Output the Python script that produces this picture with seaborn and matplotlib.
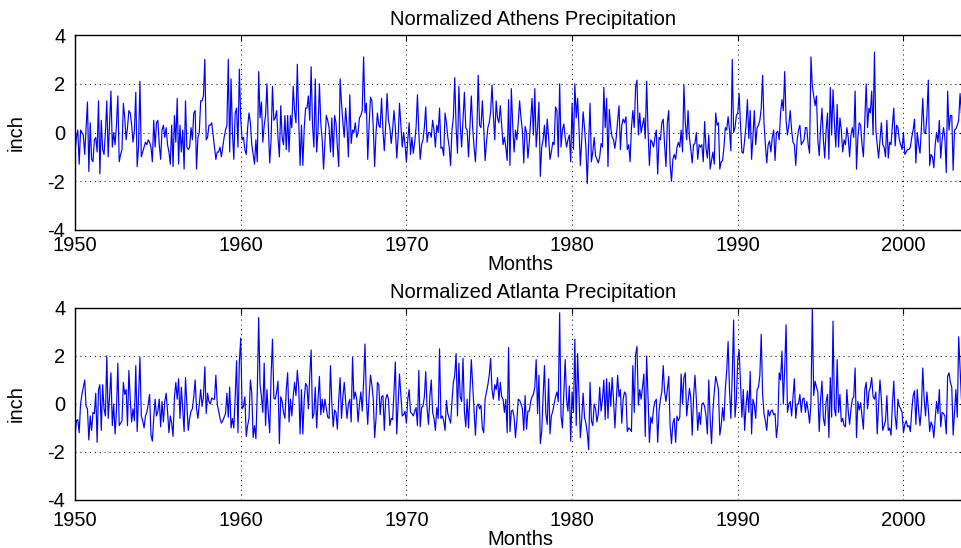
import numpy as np
import pandas as pd
import matplotlib
matplotlib.use("Agg")
import matplotlib.pyplot as plt
import seaborn as sns

start_year = 1950
x_ticks = [1950, 1960, 1970, 1980, 1990, 2000]
y_ticks = [-4, -2, 0, 2, 4]
titles = ["Normalized Athens Precipitation", "Normalized Atlanta Precipitation"]

athens = [
    -0.8, -0.2, 0.1, -1.3, 0.1, 0.0, -0.1, -0.9, 0.2, 1.25, -1.6, 0.4,
    -1.1, -1.2, -0.3, -0.2, -0.8, 1.3, -1.7, 0.5, -0.7, -0.9, 0.0, 1.3,
    -1.0, 0.3, 1.7, -0.6, 0.0, -0.5, 0.3, 1.5, -1.2, -0.9, -0.7, 1.2,
    0.6, -0.3, 0.2, 0.9, 0.8, 0.3, -0.4, 0.1, 1.65, -1.4, -0.6, 2.1,
    -1.0, -0.8, -0.6, -0.4, -0.5, -0.3, -0.4, -0.6, -1.2, 0.5, -0.6, 0.4,
    0.5, -0.5, -1.1, 0.1, 0.3, -0.2, 0.2, -0.5, -0.8, -1.3, 0.3, -1.4,
    0.7, -0.4, 1.4, -1.3, 0.3, -0.8, 0.1, -1.5, 1.3, -0.6, -0.7, -0.6,
    0.2, -0.3, 0.8, 0.9, -1.5, -0.2, 0.0, 1.3, 1.3, 1.5, 3.0, -0.3,
    -0.2, 0.3, 0.3, 0.4, -0.1, -0.6, -1.1, -0.8, -0.8, -0.6, -1.0, -0.6,
    -0.2, 0.1, 0.3, 3.0, -0.8, 2.2, 0.0, -1.1, 0.8, 1.0, -0.6, 2.6,
    0.6, -0.3, -0.2, -0.7, -0.9, 0.2, 0.8, 0.4, -0.5, -0.9, -1.3, -0.3,
    -1.2, 2.5, 0.6, 1.25, -0.4, 0.3, 0.7, 2.0, 0.2, -1.25, -0.3, 1.9,
    0.5, 0.6, 0.9, -0.2, -1.0, 1.1, -0.2, -0.5, 0.7, -0.7, 0.7, -0.8,
    0.7, 0.2, 1.9, 0.9, 0.4, 2.8, 0.5, -1.35, 0.3, -1.35, 0.2, 1.0,
    1.0, 1.5, 0.5, 2.7, 0.3, -0.6, 2.2, -0.8, 0.1, 2.0, 0.4, -0.3,
    -1.5, -0.4, 0.7, 0.5, 0.2, -0.8, 0.6, -1.0, 0.7, 0.4, -0.6, -1.4,
    2.2, 1.2, 0.4, -0.2, 1.0, 0.2, -1.0, 1.55, -0.45, 0.1, 0.0, 0.4,
    -0.2, 0.0, 0.6, 0.7, 0.9, 3.1, 0.8, 1.2, -1.1, 0.3, 1.45, 1.3,
    0.2, -1.4, 0.0, 0.8, 0.3, 0.2, 1.4, 0.1, -0.75, 0.3, 1.6, 0.5,
    0.2, -0.45, 0.1, 0.9, 0.2, -1.05, -0.2, 1.2, 0.3, -0.6, 0.0, -0.5,
    -1.2, -0.3, 0.4, -0.9, -0.2, -0.85, -0.4, 0.2, 1.55, 0.0, -1.1, -0.5,
    -0.3, 0.2, 1.05, -0.4, 0.0, 0.0, -0.2, 0.5, 0.1, -0.6, 0.3, 0.0,
    1.0, -0.65, -0.6, -0.95, 0.8, 0.4, -0.2, -0.6, -1.35, 0.1, 0.6, 2.25,
    0.2, -0.85, 1.9, 0.3, -0.6, 0.5, 1.65, 0.2, 0.1, -1.0, 0.3, 1.5,
    0.2, -0.6, -1.2, 0.0, 2.35, 0.3, 0.2, 1.3, 0.2, -1.15, -0.4, 0.2,
    0.4, 0.85, 1.95, 0.7, -0.3, 1.3, 0.6, 0.4, 1.1, 0.3, -0.5, -0.2,
    -0.6, -1.15, 1.35, -1.35, 1.8, 0.3, -0.8, 0.1, -0.3, 0.4, 1.3, 0.6,
    0.1, -1.25, 0.25, 0.0, -1.05, -0.4, 0.5, 1.4, -0.1, 1.8, -0.6, 0.2,
    1.25, -1.8, -0.6, -0.3, 0.3, -0.6, 0.55, -0.2, -1.1, -0.8, -0.4, -0.5,
    1.05, 0.9, -1.0, 2.0, -0.6, 0.1, 0.35, -0.2, -0.6, -0.3, -0.1, -1.2,
    1.2, -0.7, 2.0, 0.6, 1.4, 0.2, -1.35, -0.3, 0.85, 0.2, -0.6, -2.1,
    -0.4, 1.2, -1.2, -0.8, -0.2, -0.95, -1.1, -1.25, -1.0, -0.45, -0.6, 1.85,
    0.2, 1.4, -1.4, 0.95, 0.2, -0.2, -0.3, -0.65, -0.2, 0.5, 1.1, -0.7,
    0.3, 0.55, 0.4, 0.65, -0.7, -0.5, -1.2, 0.2, 0.9, 0.2, 1.85, 2.15,
    -0.1, 0.8, 0.0, 0.3, 0.6, -0.25, 2.1, 0.1, -1.35, -0.3, -0.4, -0.6,
    -0.2, 0.1, -1.7, -0.2, -0.3, 0.4, 0.55, -0.5, -1.4, 0.4, 0.9, -1.3,
    -2.0, -1.1, -0.9, -1.1, -0.6, -0.4, -0.6, 0.1, -0.8, 1.95, 0.4, -0.3,
    0.9, -0.2, -0.7, -1.25, -0.5, -0.45, 0.0, -1.1, -0.5, -0.6, -0.5, -1.2,
    0.45, -0.65, -1.05, -0.1, -1.5, -1.15, -0.8, -1.3, 0.8, 0.3, 0.4, -1.5,
    -1.2, -1.15, -0.6, 0.2, 0.1, 0.65, 0.1, -0.75, 3.0, 0.0, 0.2, 0.7,
    0.8, 1.6, 0.3, -0.8, -0.85, -0.3, 0.3, 1.35, -0.25, 0.9, -1.1, -0.15,
    0.9, -0.5, 0.2, 0.3, 0.5, 1.0, 2.35, 0.4, -0.5, -1.25, -0.5, -0.35,
    -0.8, -0.2, 0.1, -1.15, 0.0, 0.05, -0.3, 0.8, 1.35, 0.9, 2.5, 0.5,
    -0.1, 0.3, 0.9, 0.1, -0.4, -0.5, -1.35, -0.3, 0.1, 0.3, -0.5, -0.4,
    -0.3, 0.2, 0.2, -0.5, -0.85, 3.1, 1.9, 1.5, 1.1, 1.5, -0.3, -0.95,
    0.2, 1.0, -0.3, -1.05, 0.1, 0.8, -1.1, 1.85, -0.1, 1.75, 0.4, -0.6,
    1.15, -0.6, 0.6, 0.1, -0.8, -0.3, -0.5, 0.2, -0.2, -1.0, -0.1, 0.2,
    -0.2, 1.7, -1.5, -0.2, 0.4, 0.3, -0.5, -1.0, 0.5, 2.0, 0.2, 1.0,
    0.8, 1.7, -0.1, 3.3, 0.1, -0.5, -1.05, -0.3, 0.4, -0.5, -0.6, -1.0,
    0.5, -1.05, -0.4, -0.5, 0.3, 1.0, -0.55, 0.3, 0.2, -0.3, -0.5, -0.7,
    0.0, -0.9, -0.8, -0.7, -0.7, -0.6, -0.2, 0.1, 0.55, -1.25, 0.0, -0.5,
    -0.85, 0.2, 1.4, 0.0, -0.05, 0.7, 2.15, -1.35, -0.9, -1.0, -1.45, -0.5,
    0.0, -0.4, 0.5, -1.05, -0.3, 0.2, -0.2, -1.65, 1.7, 0.1, 0.7, 0.7,
    -1.55, 0.1, 0.15, 0.3, 0.5, 1.6, 0.8, 1.3, -0.9, -0.5,
]

atlanta = [
    -1.3, -0.7, -0.65, -1.2, 0.0, 0.4, 0.7, 1.0, -0.1, -0.2, -1.5, -0.5,
    -1.1, -0.35, -0.4, 0.45, -1.6, 0.6, 0.8, -1.1, 0.8, -0.2, -0.5, 2.0,
    -0.6, 0.3, 1.3, -0.9, 0.0, -1.25, -0.3, 1.7, -0.9, -0.8, -0.7, 0.9,
    0.4, 0.6, -0.9, 1.4, 0.2, -0.75, -0.2, -0.7, 1.6, -1.15, 0.3, 1.95,
    -0.5, -0.7, -1.0, -0.5, -0.35, 0.0, 0.4, -1.3, -1.55, -0.6, 0.2, -0.5,
    -0.3, 0.2, -0.95, 0.1, -0.75, 0.1, 0.45, -0.3, -1.2, -0.5, -0.8, -1.35,
    0.3, 0.9, 0.2, 1.05, -0.6, 0.7, -0.2, -1.15, 1.1, 0.0, -1.1, -0.6,
    -0.3, -0.2, 0.3, 1.0, -0.2, -0.6, 0.0, 0.6, -0.1, 0.3, 1.55, -0.4,
    0.45, 0.1, 0.0, 0.25, 0.2, 0.2, 1.2, 0.0, -0.3, -0.6, -0.8, -0.7,
    -0.55, -0.4, 0.45, -0.55, 0.7, -1.0, -0.6, -1.0, 0.3, 1.8, -1.2, 1.75,
    2.75, -0.2, -0.1, 0.3, -1.35, -0.9, -0.6, 1.0, 0.45, -1.4, -0.9, -1.45,
    0.5, 3.6, 0.8, 0.3, -0.35, 1.7, -0.9, 0.6, -0.4, -1.2, 1.2, 2.7,
    0.25, 0.2, 0.5, 0.95, -1.65, 0.3, 0.1, -0.35, -0.6, 0.6, 1.3, -0.75,
    0.2, -0.5, 0.3, 0.9, 0.35, 1.4, 0.7, -1.25, 0.6, -1.25, 0.2, 0.85,
    0.75, -0.2, 1.2, 2.25, -0.6, -0.4, 0.7, -1.0, 0.2, 1.15, -0.45, 0.2,
    -0.35, 0.2, -0.2, -0.55, -0.6, 1.6, 0.0, -0.95, -0.25, -0.35, -1.05, 0.2,
    1.1, -0.6, 0.3, 0.9, 0.1, -0.6, 0.0, 0.2, -0.75, 1.95, 0.2, 0.5,
    0.2, -0.75, 0.0, 0.5, -0.3, 0.9, 2.5, 0.2, -0.85, 0.35, 1.2, 0.8,
    0.2, -1.4, -0.6, 0.9, 0.8, -0.45, 0.3, 0.35, -1.1, 0.2, 0.4, 0.2,
    -0.9, -0.6, -0.65, 0.5, 1.75, -1.25, 0.0, 1.25, 0.4, -0.5, -0.45, -0.3,
    -0.8, 0.2, 0.6, -0.35, -0.4, -0.5, -0.3, -0.15, -0.9, 1.4, -0.95, -0.15,
    -0.1, 0.3, 1.35, -0.2, -0.85, 0.3, 1.0, -0.35, -0.6, -1.1, -0.15, -0.6,
    2.3, -0.6, -0.5, -0.7, -1.1, 0.15, -0.4, -0.6, -0.8, 0.1, 0.9, 1.2,
    2.1, -0.5, 1.7, 0.3, 0.1, 1.9, -0.3, -0.95, 0.2, -1.0, 0.5, 1.85,
    0.8, -0.2, -1.3, -0.1, 0.0, -0.2, -0.05, -1.0, -1.2, 0.2, 0.5, 0.8,
    1.2, 1.9, 0.6, 0.2, 0.8, 0.6, 1.1, 0.15, 0.9, 0.3, 0.2, -0.35,
    0.2, -1.2, 2.35, -1.15, -0.3, -0.25, -0.55, -1.4, -0.7, 0.2, 0.15, 0.0,
    -0.2, -1.1, 0.35, -1.05, -0.3, -0.3, 0.1, 0.3, 0.4, 0.7, 1.85, -0.4,
    1.2, -1.65, -1.15, 0.3, 1.6, -0.4, -0.85, 1.05, -1.25, -0.5, -0.3, 0.0,
    0.3, 0.5, 0.1, 3.8, -0.5, -1.0, 0.4, 1.85, 0.2, -0.3, 0.75, -1.55,
    0.5, -0.35, 2.7, -0.9, 2.1, 0.3, -1.4, -0.6, 0.45, -0.55, -0.8, -1.2,
    -1.9, 0.9, -0.7, -0.9, 0.0, -0.2, -0.75, -0.4, 0.7, -0.3, 0.2, 1.0,
    -0.65, 1.05, -0.6, 0.9, -0.1, 1.1, 0.2, -1.0, 0.1, 1.2, 0.3, 0.6,
    -0.8, 0.2, 0.5, 0.4, -1.15, -1.0, -1.05, -1.15, 1.6, -0.35, 2.05, 2.4,
    -0.05, 0.6, 0.2, 0.7, 1.25, -1.35, 2.0, 0.3, -1.6, -0.55, -0.8, -0.2,
    0.1, 0.2, -1.6, -0.3, 0.2, 0.5, 1.6, 0.5, 0.1, 0.6, 1.15, -0.9,
    -1.65, -0.8, -0.6, -1.6, -0.5, -0.7, -0.55, 1.25, 0.0, 1.1, 1.3, -0.5,
    0.1, 0.65, 0.25, -1.3, 0.3, 1.2, 0.2, -1.1, -0.35, -0.85, 0.0, 0.05,
    -0.1, -0.5, -1.25, 1.0, -0.6, -1.65, -0.3, 0.5, 1.15, 0.9, 0.6, -1.3,
    -0.9, -0.15, -0.7, 0.65, 1.4, 2.6, 0.6, -0.6, 1.2, 3.5, -0.55, 0.2,
    1.85, 2.25, 0.8, -0.55, 0.6, -1.1, -0.05, 0.55, -0.35, 1.35, -1.25, 0.2,
    -0.05, -0.6, 0.6, 0.7, 1.2, 2.9, 0.4, -0.4, -0.7, -1.1, -0.25, -0.5,
    -0.3, -0.25, -0.45, -0.4, -1.4, -0.85, 1.3, 1.0, 2.2, 0.0, 1.5, 3.3,
    -0.35, 0.0, 0.1, -0.5, 0.3, 1.05, -0.6, 0.0, 0.0, 0.4, -0.35, 0.2,
    0.25, -0.35, 0.1, -0.3, -0.8, 0.0, 4.0, 0.35, 0.95, 0.7, 0.5, -1.15,
    0.2, 0.95, -0.6, -0.9, 0.1, 0.4, -1.4, 1.1, -0.55, 3.45, -0.2, -0.5,
    1.85, -0.35, 0.4, -0.75, -0.6, -0.9, -0.95, 0.6, -0.3, -0.85, -0.2, 0.2,
    0.3, 1.5, -1.4, 0.1, -0.25, 0.05, -0.5, -1.05, 0.6, 0.9, -0.2, 0.5,
    0.7, 1.1, 0.3, 0.2, 0.5, -1.25, 0.0, 1.0, 0.2, -1.1, -0.9, -0.7,
    0.35, -1.1, -1.0, -1.3, 0.0, 0.95, -0.5, -1.05, 0.2, -0.1, -0.2, -0.35,
    -1.2, -0.85, -0.7, -0.95, -0.9, -1.15, -0.3, 0.35, 0.55, -0.85, 0.6, -0.3,
    -0.9, -0.2, 1.5, 0.2, -0.5, 0.5, -0.2, -1.15, -0.75, -0.9, -1.4, -0.6,
    0.1, -0.4, 0.6, -0.95, -0.35, -0.4, -0.5, -1.25, 1.15, 1.3, 0.9, 0.7,
    -1.3, -0.35, 0.6, -0.55, 2.8, 1.5, 0.2, -0.4, -0.6, -0.3,
]

sns.set_style("white")
plt.rcParams["font.family"] = ["Liberation Sans", "DejaVu Sans"]
plt.rcParams["axes.unicode_minus"] = False
plt.rcParams["text.color"] = "black"
plt.rcParams["axes.labelcolor"] = "black"

fig = plt.figure(figsize=(9.62, 5.48), dpi=100)
ax_top = fig.add_axes([0.0780, 0.5803, 0.9250, 0.3558])
ax_bot = fig.add_axes([0.0780, 0.0876, 0.9250, 0.3504])

x_max = start_year + 644.5 / 12

settings = [
    (ax_top, athens, titles[0], 4.5, 0),
    (ax_bot, atlanta, titles[1], 8, 0),
]
for ax, series, title, xpad, lpad in settings:
    df = pd.DataFrame({"t": start_year + np.arange(len(series)) / 12.0, "v": series})
    sns.lineplot(data=df, x="t", y="v", ax=ax, color="#0000ff", linewidth=0.85)
    ax.set_xlim(start_year, x_max)
    ax.set_ylim(-4, 4)
    ax.set_xticks(x_ticks)
    ax.set_yticks(y_ticks)
    ax.grid(True, color="black", linestyle=(0, (1, 4)), linewidth=0.7)
    ax.tick_params(direction="in", top=True, right=True, length=4,
                   labelsize=14.5, colors="black")
    ax.tick_params(axis="x", pad=xpad)
    ax.tick_params(axis="y", pad=7)
    for sp in ax.spines.values():
        sp.set_color("black")
        sp.set_linewidth(1.0)
    ax.set_title(title, fontsize=14.5, pad=7, x=(533 - 75) / (965 - 75), color="black")
    ax.set_xlabel("Months", fontsize=14.5, labelpad=lpad)
    ax.set_ylabel("inch", fontsize=14.5, labelpad=16)

fig.savefig("out.png", dpi=100)
